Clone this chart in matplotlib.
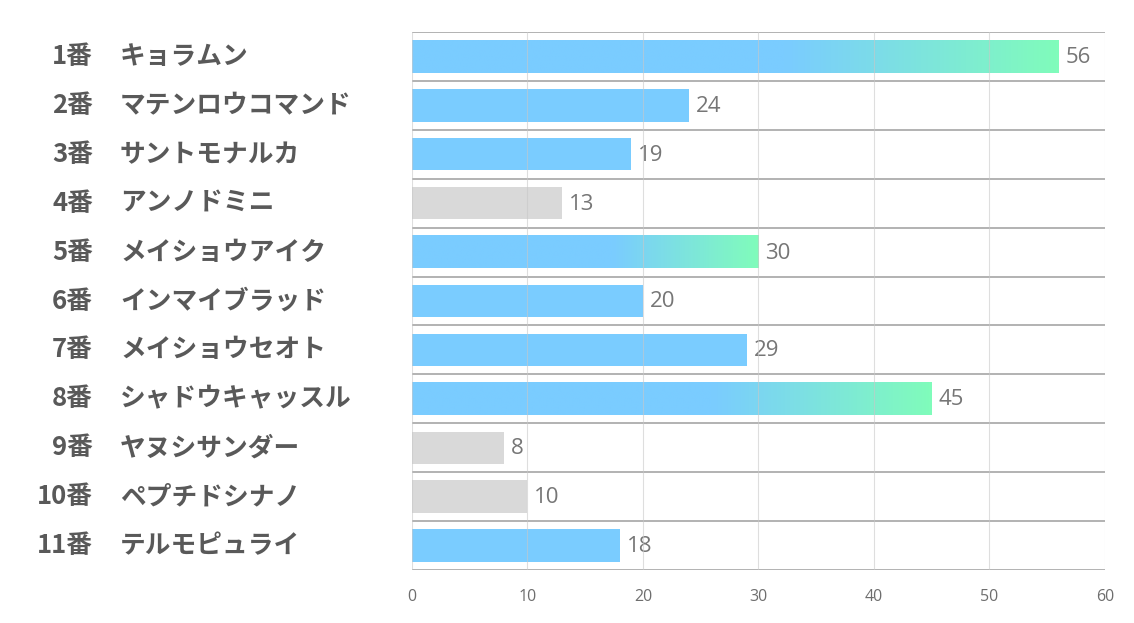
import matplotlib
matplotlib.use("Agg")
from matplotlib import pyplot as plt
from matplotlib import transforms as mtransforms
from matplotlib.colors import LinearSegmentedColormap
import numpy as np

plt.rcParams['font.family'] = ['Noto Sans CJK JP', 'DejaVu Sans']

numbers = ["1番", "2番", "3番", "4番", "5番", "6番", "7番", "8番", "9番", "10番", "11番"]
names = ["キョラムン", "マテンロウコマンド", "サントモナルカ", "アンノドミニ", "メイショウアイク",
         "インマイブラッド", "メイショウセオト", "シャドウキャッスル", "ヤヌシサンダー", "ペプチドシナノ",
         "テルモピュライ"]
values = [56, 24, 19, 13, 30, 20, 29, 45, 8, 10, 18]
kinds = ["grad", "blue", "blue", "gray", "grad", "blue", "blue", "grad", "gray", "gray", "blue"]

BLUE = "#7accff"
GREEN = "#80fcbb"
GRAY = "#d9d9d9"
TEXT = "#595959"

fig = plt.figure(figsize=(11.34, 6.23), dpi=100)
ax = fig.add_axes([0.3633, 0.0851, 0.6111, 0.8635])

bar_h = 0.66
ypos = np.arange(len(values))
gradient = np.linspace(0, 1, 300)[None, :]
grad_cmap = LinearSegmentedColormap.from_list("bg", [(0, BLUE), (0.58, BLUE), (1.0, GREEN)])

for y, v, k in zip(ypos, values, kinds):
    if k == "gray":
        ax.barh(y, v, height=bar_h, color=GRAY, zorder=2)
    elif k == "blue":
        ax.barh(y, v, height=bar_h, color=BLUE, zorder=2)
    else:
        ax.imshow(gradient, cmap=grad_cmap, aspect="auto", zorder=2,
                  extent=[0, v, y + bar_h / 2, y - bar_h / 2], interpolation="bilinear")
    ax.text(v + 0.6, y + 0.02, str(v), va="center", ha="left", fontsize=16,
            color="#767676", family=["Open Sans", "DejaVu Sans"])

ax.set_xlim(0, 60)
ax.set_ylim(len(values) - 0.5, -0.5)
ax.set_xticks(np.arange(0, 61, 10))
ax.set_yticks([])
ax.tick_params(axis="x", length=0, pad=14, labelsize=11.5, labelcolor="#6e6e6e")
for lbl in ax.get_xticklabels():
    lbl.set_family(["Open Sans", "DejaVu Sans"])

# vertical grid
for xv in np.arange(0, 61, 10):
    ax.axvline(xv, color="#c8c8c8", lw=0.8, zorder=3, alpha=0.6)
# row separators
for k in range(len(values) + 1):
    ax.axhline(k - 0.5, color="#a6a6a6", lw=1.2, zorder=1)

for s in ax.spines.values():
    s.set_visible(False)

trans = mtransforms.blended_transform_factory(fig.transFigure, ax.transData)
for y, num, nm in zip(ypos, numbers, names):
    ax.text(93 / 1134, y, num, transform=trans, ha="right", va="center",
            fontsize=18.5, fontweight="bold", color=TEXT)
    ax.text(120 / 1134, y, nm, transform=trans, ha="left", va="center",
            fontsize=18.5, fontweight="bold", color=TEXT)

fig.savefig("out.png", dpi=100)
